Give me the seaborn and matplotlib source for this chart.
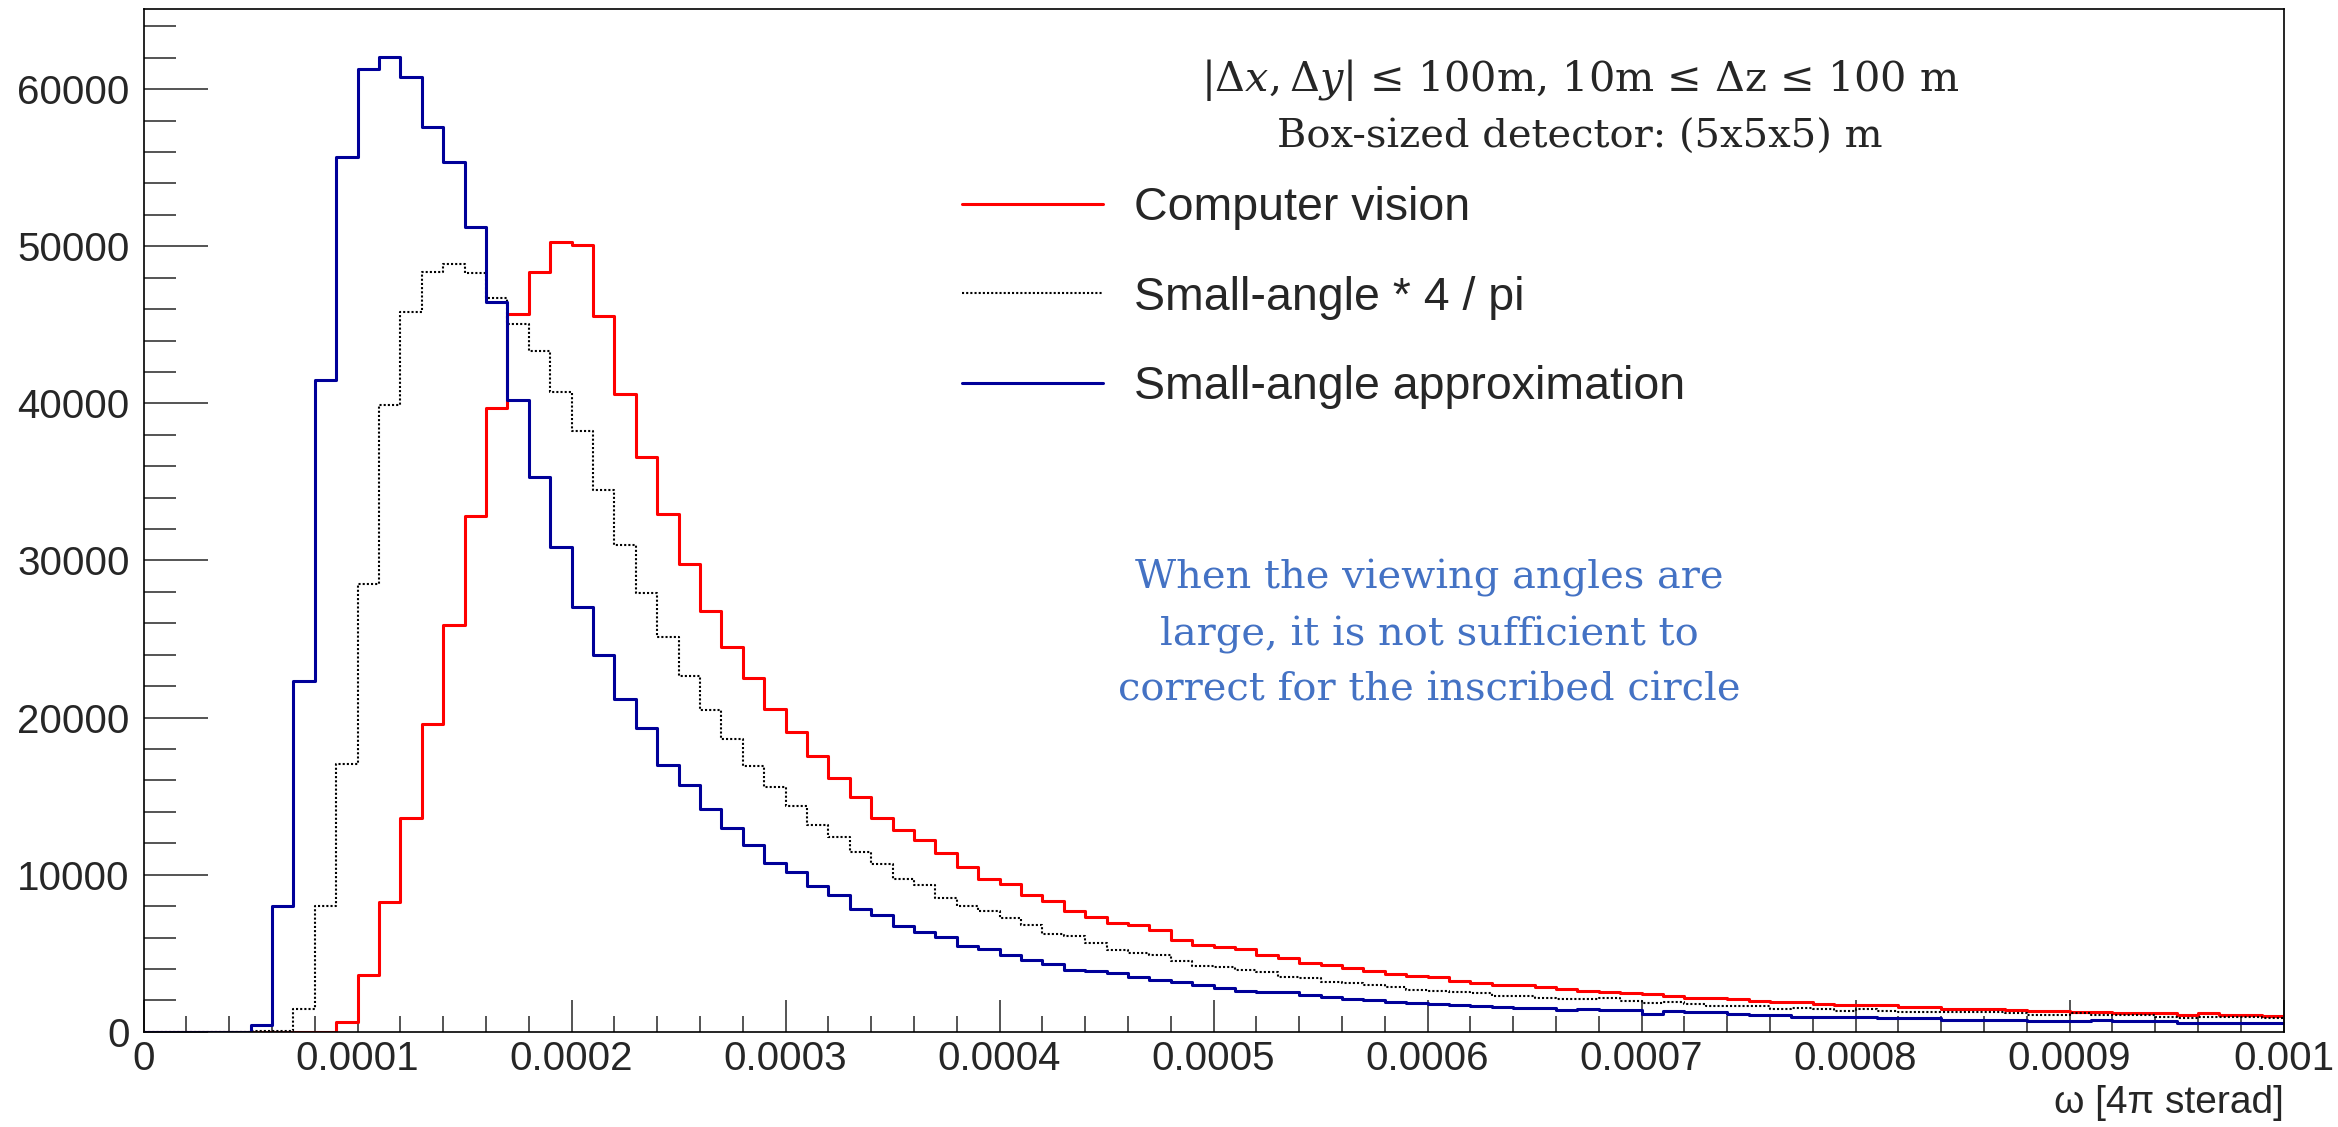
import numpy as np
import pandas as pd
import matplotlib
matplotlib.use("Agg")
import matplotlib.pyplot as plt
from matplotlib.lines import Line2D
from matplotlib.ticker import MultipleLocator, FixedLocator, FixedFormatter
import seaborn as sns

# ---- histogram binning: 100 bins of width 1e-5 over [0, 0.001] ----
n_bins = 100
omega_max = 0.001

# ---- bin contents (entries per bin) ----
computer_vision = [
    0, 0, 0, 0, 0, 0, 0, 0, 0, 620,
    3630, 8230, 13580, 19560, 25910, 32800, 39700, 45680, 48390, 50270,
    50110, 45540, 40610, 36570, 32950, 29770, 26760, 24470, 22530, 20530,
    19110, 17570, 16180, 14960, 13630, 12840, 12220, 11380, 10470, 9730,
    9420, 8680, 8300, 7660, 7280, 6950, 6770, 6460, 5840, 5520,
    5420, 5300, 4900, 4680, 4380, 4260, 4070, 3860, 3650, 3540,
    3460, 3260, 3120, 3000, 2950, 2850, 2700, 2580, 2560, 2480,
    2380, 2260, 2170, 2150, 2060, 1960, 1880, 1870, 1790, 1700,
    1690, 1680, 1600, 1600, 1470, 1470, 1460, 1400, 1300, 1300,
    1290, 1290, 1200, 1200, 1190, 1080, 1220, 1100, 1090, 990,
]

small_angle_4_over_pi = [
    0, 0, 0, 0, 0, 30, 60, 1420, 8020, 17050,
    28500, 39870, 45840, 48390, 48850, 48270, 46720, 45050, 43330, 40750,
    38250, 34500, 31000, 27920, 25110, 22660, 20470, 18610, 16910, 15590,
    14360, 13140, 12370, 11430, 10700, 9730, 9330, 8520, 8030, 7690,
    7230, 6790, 6230, 6070, 5670, 5230, 5030, 4860, 4520, 4210,
    4110, 3940, 3810, 3500, 3400, 3190, 3100, 3000, 2850, 2690,
    2570, 2530, 2450, 2310, 2270, 2150, 2100, 2110, 2160, 1950,
    1840, 1890, 1780, 1630, 1630, 1630, 1480, 1530, 1420, 1340,
    1420, 1330, 1250, 1250, 1250, 1250, 1250, 1170, 1040, 1040,
    1170, 1040, 1040, 1040, 950, 870, 950, 950, 930, 850,
]

small_angle = [
    0, 0, 0, 0, 0, 450, 8020, 22300, 41500, 55660,
    61300, 62060, 60800, 57580, 55330, 51230, 46470, 40240, 35310, 30840,
    27050, 23990, 21200, 19350, 16980, 15740, 14180, 12960, 11880, 10770,
    10170, 9270, 8680, 7840, 7460, 6760, 6340, 6060, 5440, 5300,
    4900, 4570, 4290, 3960, 3890, 3760, 3470, 3310, 3150, 2950,
    2800, 2620, 2530, 2510, 2330, 2230, 2110, 2000, 1900, 1810,
    1790, 1680, 1630, 1600, 1540, 1500, 1400, 1420, 1380, 1370,
    1160, 1300, 1290, 1260, 1140, 1060, 1060, 940, 940, 930,
    920, 850, 880, 860, 780, 770, 770, 770, 680, 680,
    680, 770, 680, 680, 670, 570, 570, 570, 560, 560,
]

series_names = ["Computer vision", "Small-angle * 4 / pi", "Small-angle approximation"]
series_values = [computer_vision, small_angle_4_over_pi, small_angle]
series_colors = ["#ff0000", "#000000", "#000099"]
series_styles = ["-", (0, (1, 1)), "-"]
series_widths = [2.2, 1.5, 2.2]

x_tick_values = [0, 0.0001, 0.0002, 0.0003, 0.0004, 0.0005, 0.0006, 0.0007, 0.0008, 0.0009, 0.001]
x_tick_labels = ["0", "0.0001", "0.0002", "0.0003", "0.0004", "0.0005",
                 "0.0006", "0.0007", "0.0008", "0.0009", "0.001"]
y_tick_values = [0, 10000, 20000, 30000, 40000, 50000, 60000]
y_tick_labels = ["0", "10000", "20000", "30000", "40000", "50000", "60000"]

bin_width = omega_max / n_bins
centers = (np.arange(n_bins) + 0.5) * bin_width

frames = []
for name, vals in zip(series_names, series_values):
    frames.append(pd.DataFrame({"omega": centers, "entries": vals, "method": name}))
df = pd.concat(frames, ignore_index=True)

# ---- style ----
sns.set_style("white")
plt.rcParams["font.family"] = ["Liberation Sans", "DejaVu Sans"]
plt.rcParams["mathtext.fontset"] = "dejavuserif"

W, H, DPI = 2338, 1127, 100
fig = plt.figure(figsize=(W / DPI, H / DPI), dpi=DPI)
fig.patch.set_facecolor("white")

left_px, right_px, top_px, bottom_px = 143.5, 2283.5, 9.0, 1031.8
ax = fig.add_axes([left_px / W, 1 - bottom_px / H,
                   (right_px - left_px) / W, (bottom_px - top_px) / H])

for name, color, ls, lw in zip(series_names, series_colors, series_styles, series_widths):
    sub = df[df["method"] == name]
    sns.histplot(data=sub, x="omega", weights="entries", bins=n_bins,
                 binrange=(0.0, omega_max), element="step", fill=False,
                 color=color, linestyle=ls, linewidth=lw, ax=ax)

ax.set_xlim(0, omega_max)
ax.set_ylim(0, 65100)

# axes frame, ROOT-like inward ticks
for side in ["left", "bottom", "right", "top"]:
    ax.spines[side].set_visible(True)
    ax.spines[side].set_color("black")
    ax.spines[side].set_linewidth(1.2)

ax.xaxis.set_major_locator(FixedLocator(x_tick_values))
ax.xaxis.set_major_formatter(FixedFormatter(x_tick_labels))
ax.xaxis.set_minor_locator(MultipleLocator(0.00002))
ax.yaxis.set_major_locator(FixedLocator(y_tick_values))
ax.yaxis.set_major_formatter(FixedFormatter(y_tick_labels))
ax.yaxis.set_minor_locator(MultipleLocator(2000))

ax.tick_params(axis="x", which="major", direction="in", length=23, width=1.1,
               labelsize=29, pad=6, top=False, bottom=True)
ax.tick_params(axis="x", which="minor", direction="in", length=11.5, width=1.1,
               top=False, bottom=True)
ax.tick_params(axis="y", which="major", direction="in", length=46, width=1.1,
               labelsize=29, pad=10, left=True, right=False)
ax.tick_params(axis="y", which="minor", direction="in", length=23, width=1.1,
               left=True, right=False)

ax.set_ylabel("")
ax.set_xlabel("ω [4π sterad]", fontsize=28, loc="right")
ax.xaxis.set_label_coords(1.0, -0.052)

# legend
handles = [Line2D([0], [0], color=c, linestyle=s, linewidth=w)
           for c, s, w in zip(series_colors, series_styles, series_widths)]
ax.legend(handles, series_names, loc="upper left",
          bbox_to_anchor=((962 - left_px) / (right_px - left_px),
                          (bottom_px - 186) / (bottom_px - top_px)),
          frameon=False, borderpad=0, borderaxespad=0, handlelength=3.03,
          handletextpad=0.67, labelspacing=0.98, fontsize=33.5)

# annotations
def ax_frac(xp, yp):
    return (xp - left_px) / (right_px - left_px), (bottom_px - yp) / (bottom_px - top_px)

x1, y1 = ax_frac(1580, 80)
ax.text(x1, y1, r"$|\Delta x, \Delta y|$ ≤ 100m, 10m ≤ Δz ≤ 100 m",
        transform=ax.transAxes, ha="center", va="center",
        fontsize=29.8, family="DejaVu Serif")
x2, y2 = ax_frac(1580, 137)
ax.text(x2, y2, "Box-sized detector: (5x5x5) m",
        transform=ax.transAxes, ha="center", va="center",
        fontsize=28.8, family="DejaVu Serif")

x3, y3 = ax_frac(1429, 634)
ax.text(x3, y3, "When the viewing angles are\nlarge, it is not sufficient to\ncorrect for the inscribed circle",
        transform=ax.transAxes, ha="center", va="center", multialignment="center",
        fontsize=28.8, family="DejaVu Serif", color="#4472c4", linespacing=1.62)

fig.savefig("out.png", dpi=DPI, facecolor="white")
